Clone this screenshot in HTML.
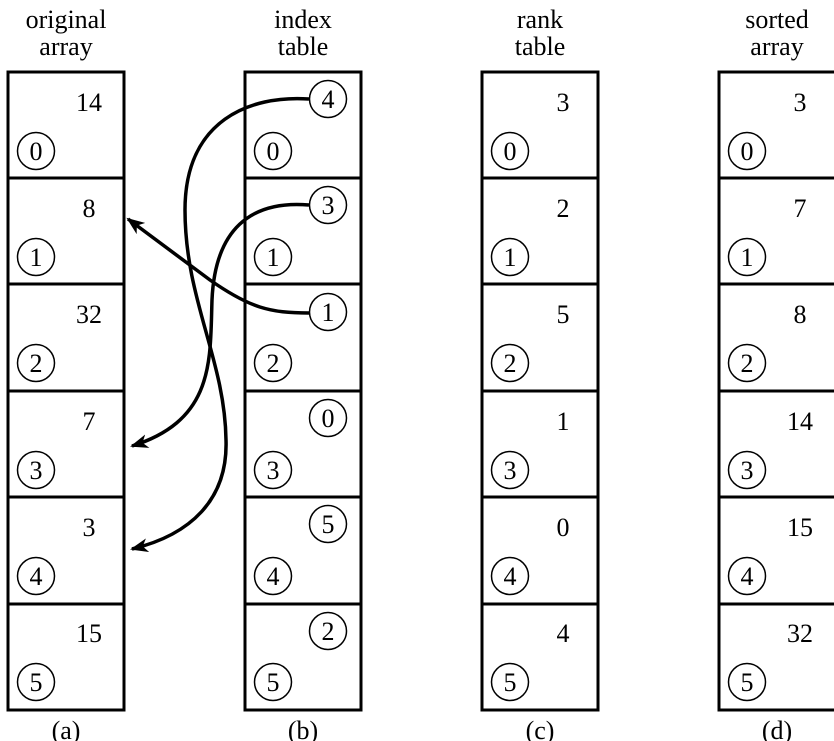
<!DOCTYPE html>
<html><head><meta charset="utf-8"><style>
html,body{margin:0;padding:0;background:#fff;}
svg{display:block;}
text{font-family:"Liberation Serif","Times New Roman",serif;}
</style></head><body>
<svg width="834" height="741" viewBox="0 0 834 741" xmlns="http://www.w3.org/2000/svg">
<defs>
<marker id="ah" markerWidth="18" markerHeight="14" refX="16" refY="7" orient="auto" markerUnits="userSpaceOnUse" viewBox="0 0 18 14">
<path d="M0,0 L18,7 L0,14 L5,7 Z" fill="#000"/>
</marker>
</defs>
<g font-size="26" text-anchor="middle" fill="#000">
<text x="66" y="28">original</text><text x="66" y="55">array</text>
<text x="303" y="28">index</text><text x="303" y="55">table</text>
<text x="540" y="28">rank</text><text x="540" y="55">table</text>
<text x="777" y="28">sorted</text><text x="777" y="55">array</text>
<text x="66" y="739">(a)</text><text x="303" y="739">(b)</text><text x="540" y="739">(c)</text><text x="777" y="739">(d)</text>
</g>
<g stroke="#000" stroke-width="3" fill="none">
<rect x="8" y="72" width="116" height="638"/>
<rect x="245" y="72" width="116" height="638"/>
<rect x="482" y="72" width="116" height="638"/>
<rect x="719" y="72" width="130" height="638"/>
<path d="M8,178H124M8,284H124M8,391H124M8,497H124M8,604H124"/>
<path d="M245,178H361M245,284H361M245,391H361M245,497H361M245,604H361"/>
<path d="M482,178H598M482,284H598M482,391H598M482,497H598M482,604H598"/>
<path d="M719,178H834M719,284H834M719,391H834M719,497H834M719,604H834"/>
</g>
<g stroke="#000" stroke-width="1.5" fill="#fff">
<circle cx="36" cy="151" r="18.5"/><circle cx="36" cy="257" r="18.5"/><circle cx="36" cy="363" r="18.5"/><circle cx="36" cy="470" r="18.5"/><circle cx="36" cy="576" r="18.5"/><circle cx="36" cy="682" r="18.5"/>
<circle cx="273" cy="151" r="18.5"/><circle cx="273" cy="257" r="18.5"/><circle cx="273" cy="363" r="18.5"/><circle cx="273" cy="470" r="18.5"/><circle cx="273" cy="576" r="18.5"/><circle cx="273" cy="682" r="18.5"/>
<circle cx="510" cy="151" r="18.5"/><circle cx="510" cy="257" r="18.5"/><circle cx="510" cy="363" r="18.5"/><circle cx="510" cy="470" r="18.5"/><circle cx="510" cy="576" r="18.5"/><circle cx="510" cy="682" r="18.5"/>
<circle cx="747" cy="151" r="18.5"/><circle cx="747" cy="257" r="18.5"/><circle cx="747" cy="363" r="18.5"/><circle cx="747" cy="470" r="18.5"/><circle cx="747" cy="576" r="18.5"/><circle cx="747" cy="682" r="18.5"/>
</g>
<g stroke="#000" stroke-width="3.5" fill="none">
<path d="M309,313 C270,313 250,308 210,280 L128,219" marker-end="url(#ah)"/>
<path d="M309,205 C250,200 215,230 212,300 C210,360 215,420 132,446" marker-end="url(#ah)"/>
<path d="M309,99 C250,95 185,120 185,210 C185,300 225,360 226,440 C228,500 190,535 132,549" marker-end="url(#ah)"/>
</g>
<g stroke="#000" stroke-width="1.5" fill="#fff">
<circle cx="328" cy="99" r="18.5"/><circle cx="328" cy="205" r="18.5"/><circle cx="328" cy="312" r="18.5"/><circle cx="328" cy="418" r="18.5"/><circle cx="328" cy="524" r="18.5"/><circle cx="328" cy="631" r="18.5"/>
</g>
<g font-size="26" text-anchor="middle" fill="#000">
<text x="36" y="160">0</text><text x="36" y="266">1</text><text x="36" y="372">2</text><text x="36" y="479">3</text><text x="36" y="585">4</text><text x="36" y="691">5</text>
<text x="273" y="160">0</text><text x="273" y="266">1</text><text x="273" y="372">2</text><text x="273" y="479">3</text><text x="273" y="585">4</text><text x="273" y="691">5</text>
<text x="510" y="160">0</text><text x="510" y="266">1</text><text x="510" y="372">2</text><text x="510" y="479">3</text><text x="510" y="585">4</text><text x="510" y="691">5</text>
<text x="747" y="160">0</text><text x="747" y="266">1</text><text x="747" y="372">2</text><text x="747" y="479">3</text><text x="747" y="585">4</text><text x="747" y="691">5</text>
<text x="328" y="108">4</text><text x="328" y="214">3</text><text x="328" y="321">1</text><text x="328" y="427">0</text><text x="328" y="533">5</text><text x="328" y="640">2</text>
<text x="89" y="111">14</text><text x="89" y="217">8</text><text x="89" y="323">32</text><text x="89" y="430">7</text><text x="89" y="536">3</text><text x="89" y="642">15</text>
<text x="563" y="111">3</text><text x="563" y="217">2</text><text x="563" y="323">5</text><text x="563" y="430">1</text><text x="563" y="536">0</text><text x="563" y="642">4</text>
<text x="800" y="111">3</text><text x="800" y="217">7</text><text x="800" y="323">8</text><text x="800" y="430">14</text><text x="800" y="536">15</text><text x="800" y="642">32</text>
</g>
</svg>
</body></html>
